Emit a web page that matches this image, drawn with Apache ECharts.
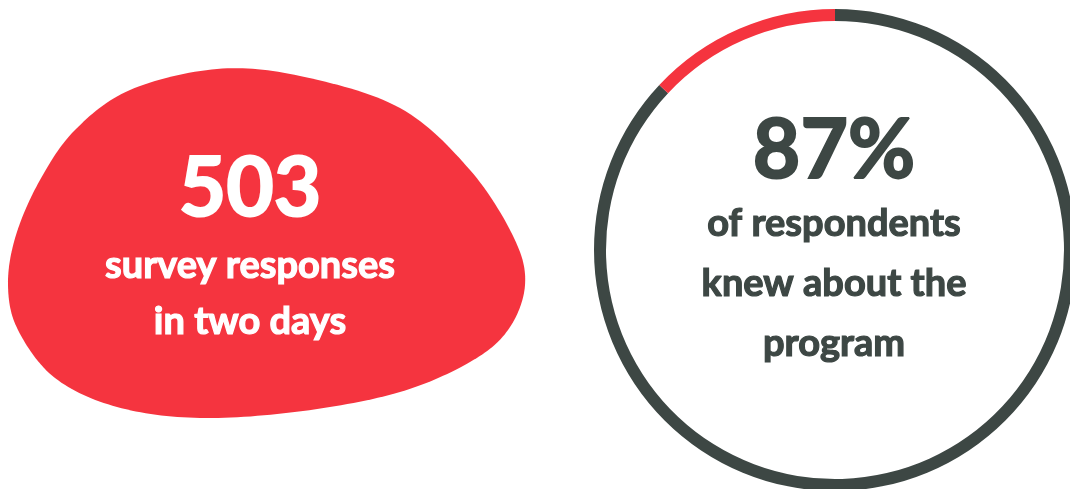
<!DOCTYPE html>
<html>
<head>
<meta charset="utf-8">
<script src="https://cdn.jsdelivr.net/npm/echarts@6/dist/echarts.min.js"></script>
<style>
html,body{margin:0;padding:0;background:#fff;}
#chart{width:1070px;height:489px;}
</style>
</head>
<body>
<div id="chart"></div>
<script>
// ---- data ----
const responseCount = 503;
const responseLines = ['survey responses', 'in two days'];
const ringNames = ['Knew about the program', 'Did not know'];
const ringValues = [87, 13];
const ringLines = ['of respondents', 'knew about the', 'program'];

// ---- styles ----
const RED = '#F5343F';
const DARK = '#3D4744';
const FONT = 'Lato';

const chart = echarts.init(document.getElementById('chart'), null, {renderer: 'canvas'});

// decorative blob outline (background shape, not data)
const blobOutline = [
  [217,69],[300,76],[400,108],[470,170],[514,238],[525,285],[508,330],[470,362],
  [400,392],[303,411],[200,418],[117,407],[55,378],[18,330],[8,285],[16,235],
  [40,180],[75,130],[130,90]
];
// sample a closed Catmull-Rom spline through the outline for a smooth blob edge
function smoothClosed(pts, steps) {
  const n = pts.length, out = [];
  for (let i = 0; i < n; i++) {
    const p0 = pts[(i - 1 + n) % n], p1 = pts[i], p2 = pts[(i + 1) % n], p3 = pts[(i + 2) % n];
    for (let s = 0; s < steps; s++) {
      const t = s / steps, t2 = t * t, t3 = t2 * t;
      const f = k => 0.5 * ((2 * p1[k]) + (-p0[k] + p2[k]) * t +
        (2 * p0[k] - 5 * p1[k] + 4 * p2[k] - p3[k]) * t2 +
        (-p0[k] + 3 * p1[k] - 3 * p2[k] + p3[k]) * t3);
      out.push([f(0), f(1)]);
    }
  }
  return out;
}

const total = ringValues.reduce((a, b) => a + b, 0);
const pct = Math.round(ringValues[0] / total * 100) + '%';

function txt(x, y, text, color, size, sw) {
  return {type: 'text', z: 5, x: x, y: y, style: {
    text: text, fill: color, stroke: color, lineWidth: sw,
    font: 'bold ' + size + 'px ' + FONT, textAlign: 'center', textVerticalAlign: 'middle'}};
}

const graphics = [
  {type: 'polygon', z: 0, shape: {points: smoothClosed(blobOutline, 16)}, style: {fill: RED}},
  txt(250, 190, String(responseCount), '#fff', 82, 2),
  txt(250, 266, responseLines[0], '#fff', 38, 1.2),
  txt(250, 322, responseLines[1], '#fff', 38, 1.2),
  txt(834, 152, pct, DARK, 82, 2)
];
ringLines.forEach((t, i) => graphics.push(txt(834, 224 + i * 60, t, DARK, 38, 1.2)));

chart.setOption({
  animation: false,
  backgroundColor: '#fff',
  graphic: graphics,
  series: [{
    type: 'pie',
    center: [835, 250],
    radius: [229, 241],
    startAngle: 90,
    clockwise: true,
    label: {show: false},
    labelLine: {show: false},
    emphasis: {disabled: true},
    itemStyle: {borderWidth: 0},
    data: ringNames.map((n, i) => ({name: n, value: ringValues[i], itemStyle: {color: i === 0 ? DARK : RED}}))
  }]
});
</script>
</body>
</html>
